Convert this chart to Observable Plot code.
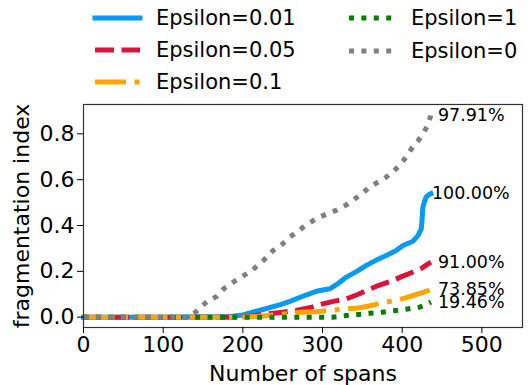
<!DOCTYPE html>
<html><head><meta charset="utf-8">
<script src="https://cdn.jsdelivr.net/npm/d3@7"></script>
<script src="https://cdn.jsdelivr.net/npm/@observablehq/plot@0.6"></script>
<style>
body{margin:0;background:#fff;font-family:"DejaVu Sans",sans-serif;}
#wrap{position:relative;width:532px;height:385px;}
#legend{position:absolute;left:0;top:0;width:532px;height:100px;}
.sw{position:absolute;}
.lt{position:absolute;font-size:21px;line-height:24px;height:24px;color:#000;white-space:nowrap;}
</style>
</head><body>
<div id="wrap"><div id="legend"></div></div>
<script>
// series
const names = ["Epsilon=0.01","Epsilon=0.05","Epsilon=0.1","Epsilon=1","Epsilon=0"];
const colors = ["#069af3","#dc143c","#ffa500","#008000","#808080"];
const dashes = [null,"19,7.5","31,8.5,5,8.5","5,7.4","5,7.4"];
const endLabels = ["100.00%","91.00%","73.85%","19.46%","97.91%"];

const xBlue = [0,100,184,200,217,230,247,260,272,292,309,320,330,343,355,367,380,392,401,413,420,424,425,426,428,430,434,436];
const yBlue = [0,0,0.003,0.01,0.026,0.038,0.055,0.07,0.087,0.113,0.124,0.148,0.175,0.2,0.226,0.248,0.269,0.29,0.313,0.33,0.357,0.386,0.43,0.48,0.505,0.524,0.536,0.539];

const xRed = [0,195,215,230,250,267,285,297,315,330,345,355,370,388,400,413,425,436];
const yRed = [0,0,0.007,0.014,0.022,0.029,0.042,0.055,0.07,0.08,0.1,0.116,0.138,0.16,0.178,0.196,0.215,0.24];

const xOrange = [0,190,218,240,260,272,292,309,326,345,360,372,392,405,418,428,436];
const yOrange = [0,0,0.003,0.01,0.016,0.022,0.024,0.029,0.036,0.04,0.05,0.061,0.073,0.085,0.099,0.11,0.12];

const xGreen = [0,313,330,345,359,375,392,407,422,430,436];
const yGreen = [0,0,0.007,0.012,0.017,0.022,0.029,0.036,0.044,0.055,0.066];

const xGray = [0,133,140,155,167,176,188,205,215,226,238,250,259,276,292,305,317,330,338,350,359,370,380,390,397,405,413,420,426,431,436];
const yGray = [0,0,0.02,0.068,0.09,0.124,0.153,0.19,0.215,0.248,0.291,0.32,0.349,0.393,0.43,0.45,0.466,0.49,0.51,0.54,0.568,0.59,0.611,0.64,0.662,0.7,0.742,0.77,0.8,0.83,0.88];

const xTicks = [0,100,200,300,400,500];
const yTicks = [0,0.2,0.4,0.6,0.8];

const xs = [xBlue,xRed,xOrange,xGreen,xGray];
const ys = [yBlue,yRed,yOrange,yGreen,yGray];
const series = names.map((n,i)=>xs[i].map((x,j)=>({name:n,x,y:ys[i][j]})));
const ends = series.map((s,i)=>({...s[s.length-1], label:endLabels[i], blue:i===0}));

const LW = 5;
const lineMarks = series.map((s,i)=>Plot.line(s,{x:"x",y:"y",stroke:colors[i],strokeWidth:LW,
  strokeDasharray:dashes[i]||undefined,strokeLinecap:dashes[i]?"butt":"square",strokeLinejoin:"round"}));

const chart = Plot.plot({
  width:532,height:385,
  marginTop:104,marginLeft:83,marginRight:10,marginBottom:58,
  style:{fontFamily:"DejaVu Sans",fontSize:"22px",color:"#000",background:"#fff"},
  x:{domain:[0,551]},
  y:{domain:[-0.045,0.928]},
  marks:[
    ...lineMarks,
    Plot.text(ends.filter(d=>d.blue),{x:"x",y:"y",text:"label",textAnchor:"start",dx:1,fontSize:17.5,fill:"#000",lineAnchor:"middle"}),
    Plot.text(ends.filter(d=>!d.blue),{x:"x",y:"y",text:"label",textAnchor:"start",dx:7,fontSize:17.5,fill:"#000",lineAnchor:"middle"}),
    Plot.frame({stroke:"#333",strokeWidth:1.2}),
    Plot.axisX(xTicks,{tickSize:6,tickPadding:3,fontSize:22,label:"Number of spans",labelAnchor:"center",labelArrow:"none",labelOffset:53,stroke:"#000"}),
    Plot.axisY(yTicks,{tickSize:6,tickPadding:3,fontSize:22,tickFormat:d3.format(".1f"),label:"fragmentation index",labelAnchor:"center",labelArrow:"none",labelOffset:70,stroke:"#000"})
  ]
});
document.getElementById("wrap").appendChild(chart);

// legend
const legendLine = [[95,17.5],[95,50],[95,81.7],[349,17.5],[349,50.5]];
const legendTextX = [156,156,156,411,411];
const leg = document.getElementById("legend");
names.forEach((n,i)=>{
  const [lx,cy] = legendLine[i];
  const s = document.createElementNS("http://www.w3.org/2000/svg","svg");
  s.setAttribute("class","sw");
  s.setAttribute("width","55"); s.setAttribute("height","12");
  s.style.left=(lx-5)+"px"; s.style.top=(cy-6)+"px";
  const dash = dashes[i] ? ` stroke-dasharray="${dashes[i]}" stroke-linecap="butt"` : ` stroke-linecap="square"`;
  s.innerHTML = `<line x1="5" x2="50" y1="6" y2="6" stroke="${colors[i]}" stroke-width="${LW}"${dash}/>`;
  leg.appendChild(s);
  const t = document.createElement("div");
  t.className="lt";
  t.style.left = legendTextX[i]+"px";
  t.style.top = (cy-12)+"px";
  t.textContent = n;
  leg.appendChild(t);
});
</script>
</body></html>
